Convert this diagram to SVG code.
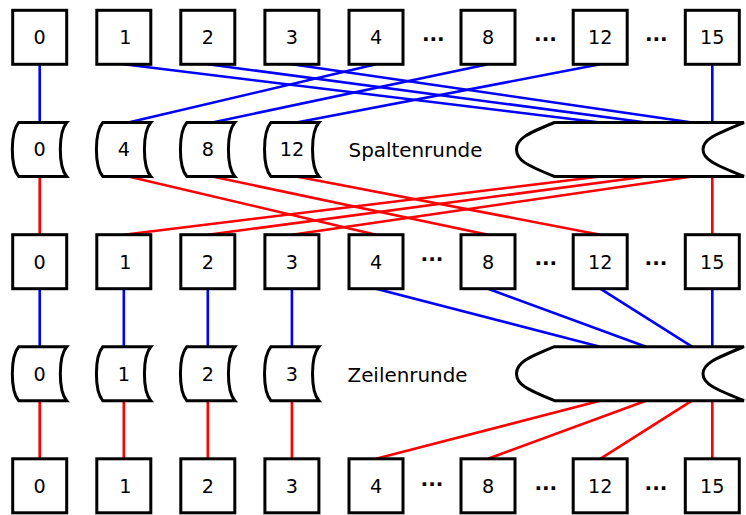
<svg xmlns="http://www.w3.org/2000/svg" xmlns:xlink="http://www.w3.org/1999/xlink" width="746" height="515" viewBox="0 0 746 515">
<style>
.box{fill:#fff;stroke:#000;stroke-width:3}
.sh{fill:#fff;stroke:#000;stroke-width:3;stroke-linejoin:miter}
.t{font-family:"DejaVu Sans",sans-serif;font-size:19.2px;fill:#000;text-anchor:middle}
.lbl{font-family:"DejaVu Sans",sans-serif;font-size:19.9px;fill:#000}
.dots{font-family:"DejaVu Sans",sans-serif;font-size:20px;font-weight:bold;fill:#000;text-anchor:middle}
.b{stroke:#00f;stroke-width:2.6;fill:none}
.r{stroke:#f00;stroke-width:2.6;fill:none}
</style>
<defs>
<rect id="bx" class="box" x="-27" y="-27" width="54" height="54"/>
<path id="sm" class="sh" d="M-21,-27 H27 C18.5,-17 18.5,17 27,27 H-21 C-29.5,17 -29.5,-17 -21,-27 Z"/>
<path id="big" class="sh" d="M554.5,-27 H744 C716,-15.5 703,-10.5 703,0 C703,10.5 716,15.5 744,27 H554.5 C526,15.5 516.5,10.5 516.5,0 C516.5,-10.5 526,-15.5 554.5,-27 Z"/>
</defs>
<rect width="746" height="515" fill="#fff"/>
<g id="connectors">
<g class="b">
<line x1="39.7" y1="64.3" x2="39.7" y2="122.5"/>
<line x1="123.8" y1="64.3" x2="600" y2="122.5"/>
<line x1="207.8" y1="64.3" x2="646" y2="122.5"/>
<line x1="291.9" y1="64.3" x2="692" y2="122.5"/>
<line x1="376" y1="64.3" x2="128.3" y2="122.5"/>
<line x1="488" y1="64.3" x2="212.3" y2="122.5"/>
<line x1="600.2" y1="64.3" x2="296.4" y2="122.5"/>
<line x1="712.3" y1="64.3" x2="712.3" y2="122.5"/>
</g>
<g class="r">
<line x1="39.7" y1="176.5" x2="39.7" y2="234.7"/>
<line x1="128.3" y1="176.5" x2="376" y2="234.7"/>
<line x1="212.3" y1="176.5" x2="488" y2="234.7"/>
<line x1="296.4" y1="176.5" x2="600.2" y2="234.7"/>
<line x1="600" y1="176.5" x2="123.8" y2="234.7"/>
<line x1="646" y1="176.5" x2="207.8" y2="234.7"/>
<line x1="692" y1="176.5" x2="291.9" y2="234.7"/>
<line x1="712.3" y1="176.5" x2="712.3" y2="234.7"/>
</g>
<g class="b">
<line x1="39.7" y1="288.7" x2="39.7" y2="346.7"/>
<line x1="123.8" y1="288.7" x2="123.8" y2="346.7"/>
<line x1="207.8" y1="288.7" x2="207.8" y2="346.7"/>
<line x1="291.9" y1="288.7" x2="291.9" y2="346.7"/>
<line x1="376" y1="288.7" x2="600" y2="346.7"/>
<line x1="488" y1="288.7" x2="646" y2="346.7"/>
<line x1="600.2" y1="288.7" x2="692" y2="346.7"/>
<line x1="712.3" y1="288.7" x2="712.3" y2="346.7"/>
</g>
<g class="r">
<line x1="39.7" y1="400.7" x2="39.7" y2="458.8"/>
<line x1="123.8" y1="400.7" x2="123.8" y2="458.8"/>
<line x1="207.8" y1="400.7" x2="207.8" y2="458.8"/>
<line x1="291.9" y1="400.7" x2="291.9" y2="458.8"/>
<line x1="600" y1="400.7" x2="376" y2="458.8"/>
<line x1="646" y1="400.7" x2="488" y2="458.8"/>
<line x1="692" y1="400.7" x2="600.2" y2="458.8"/>
<line x1="712.3" y1="400.7" x2="712.3" y2="458.8"/>
</g>
</g>
<!-- Row 1 -->
<g id="r1-0"><use xlink:href="#bx" x="39.7" y="37.3"/><text class="t" x="39.7" y="44.1">0</text></g>
<g id="r1-1"><use xlink:href="#bx" x="123.8" y="37.3"/><text class="t" x="125.3" y="44.1">1</text></g>
<g id="r1-2"><use xlink:href="#bx" x="207.8" y="37.3"/><text class="t" x="207.8" y="44.1">2</text></g>
<g id="r1-3"><use xlink:href="#bx" x="291.9" y="37.3"/><text class="t" x="291.9" y="44.1">3</text></g>
<g id="r1-4"><use xlink:href="#bx" x="376" y="37.3"/><text class="t" x="376" y="44.1">4</text></g>
<g id="r1-8"><use xlink:href="#bx" x="488" y="37.3"/><text class="t" x="488" y="44.1">8</text></g>
<g id="r1-12"><use xlink:href="#bx" x="600.2" y="37.3"/><text class="t" x="600.2" y="44.1">12</text></g>
<g id="r1-15"><use xlink:href="#bx" x="712.3" y="37.3"/><text class="t" x="712.3" y="44.1">15</text></g>
<g id="r1-dots"><text class="dots" x="433.3" y="40.5">...</text><text class="dots" x="545.5" y="40.5">...</text><text class="dots" x="656.3" y="40.5">...</text></g>
<!-- Row 2: Spaltenrunde -->
<g id="s2-0"><use xlink:href="#sm" x="39.7" y="149.5"/><text class="t" x="39.7" y="156.3">0</text></g>
<g id="s2-4"><use xlink:href="#sm" x="123.8" y="149.5"/><text class="t" x="123.8" y="156.3">4</text></g>
<g id="s2-8"><use xlink:href="#sm" x="207.8" y="149.5"/><text class="t" x="207.8" y="156.3">8</text></g>
<g id="s2-12"><use xlink:href="#sm" x="291.9" y="149.5"/><text class="t" x="291.9" y="156.3">12</text></g>
<g id="s2-big"><use xlink:href="#big" y="149.5"/></g>
<text id="lbl-spalten" class="lbl" x="348.5" y="157">Spaltenrunde</text>
<!-- Row 3 -->
<g id="r3-0"><use xlink:href="#bx" x="39.7" y="261.7"/><text class="t" x="39.7" y="268.5">0</text></g>
<g id="r3-1"><use xlink:href="#bx" x="123.8" y="261.7"/><text class="t" x="125.3" y="268.5">1</text></g>
<g id="r3-2"><use xlink:href="#bx" x="207.8" y="261.7"/><text class="t" x="207.8" y="268.5">2</text></g>
<g id="r3-3"><use xlink:href="#bx" x="291.9" y="261.7"/><text class="t" x="291.9" y="268.5">3</text></g>
<g id="r3-4"><use xlink:href="#bx" x="376" y="261.7"/><text class="t" x="376" y="268.5">4</text></g>
<g id="r3-8"><use xlink:href="#bx" x="488" y="261.7"/><text class="t" x="488" y="268.5">8</text></g>
<g id="r3-12"><use xlink:href="#bx" x="600.2" y="261.7"/><text class="t" x="600.2" y="268.5">12</text></g>
<g id="r3-15"><use xlink:href="#bx" x="712.3" y="261.7"/><text class="t" x="712.3" y="268.5">15</text></g>
<g id="r3-dots"><text class="dots" x="432" y="260.5">...</text><text class="dots" x="545.8" y="264.5">...</text><text class="dots" x="656" y="264.5">...</text></g>
<!-- Row 4: Zeilenrunde -->
<g id="s4-0"><use xlink:href="#sm" x="39.7" y="373.7"/><text class="t" x="39.7" y="380.5">0</text></g>
<g id="s4-1"><use xlink:href="#sm" x="123.8" y="373.7"/><text class="t" x="123.8" y="380.5">1</text></g>
<g id="s4-2"><use xlink:href="#sm" x="207.8" y="373.7"/><text class="t" x="207.8" y="380.5">2</text></g>
<g id="s4-3"><use xlink:href="#sm" x="291.9" y="373.7"/><text class="t" x="291.9" y="380.5">3</text></g>
<g id="s4-big"><use xlink:href="#big" y="373.7"/></g>
<text id="lbl-zeilen" class="lbl" x="347.5" y="382">Zeilenrunde</text>
<!-- Row 5 -->
<g id="r5-0"><use xlink:href="#bx" x="39.7" y="485.8"/><text class="t" x="39.7" y="492.6">0</text></g>
<g id="r5-1"><use xlink:href="#bx" x="123.8" y="485.8"/><text class="t" x="125.3" y="492.6">1</text></g>
<g id="r5-2"><use xlink:href="#bx" x="207.8" y="485.8"/><text class="t" x="207.8" y="492.6">2</text></g>
<g id="r5-3"><use xlink:href="#bx" x="291.9" y="485.8"/><text class="t" x="291.9" y="492.6">3</text></g>
<g id="r5-4"><use xlink:href="#bx" x="376" y="485.8"/><text class="t" x="376" y="492.6">4</text></g>
<g id="r5-8"><use xlink:href="#bx" x="488" y="485.8"/><text class="t" x="488" y="492.6">8</text></g>
<g id="r5-12"><use xlink:href="#bx" x="600.2" y="485.8"/><text class="t" x="600.2" y="492.6">12</text></g>
<g id="r5-15"><use xlink:href="#bx" x="712.3" y="485.8"/><text class="t" x="712.3" y="492.6">15</text></g>
<g id="r5-dots"><text class="dots" x="432" y="485.5">...</text><text class="dots" x="545.8" y="489.5">...</text><text class="dots" x="656" y="489.5">...</text></g>
</svg>
